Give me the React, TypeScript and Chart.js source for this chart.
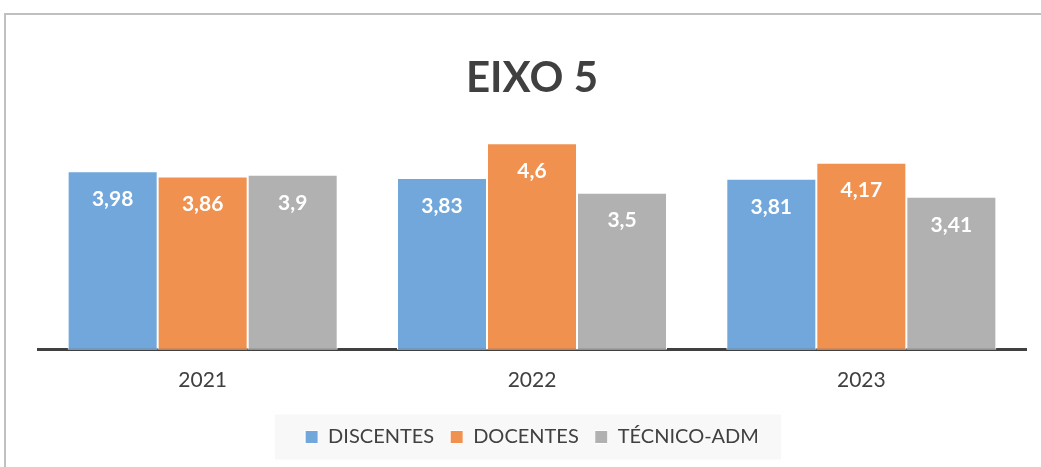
import React, { useEffect, useRef } from "react";
import { Chart, registerables } from "chart.js";

Chart.register(...registerables);

const categories = ["2021", "2022", "2023"];
const seriesNames = ["DISCENTES", "DOCENTES", "TÉCNICO-ADM"];
const discentes = [3.98, 3.83, 3.81];
const docentes = [3.86, 4.6, 4.17];
const tecnicoAdm = [3.9, 3.5, 3.41];
const colors = ["#71A7DB", "#F0914F", "#B1B1B1"];
const titleText = "EIXO 5";

const FONT = "Lato, 'Open Sans', sans-serif";

const dataLabelPlugin = {
  id: "dataLabels",
  afterDatasetsDraw(chart: any) {
    const ctx = chart.ctx;
    ctx.save();
    ctx.fillStyle = "#ffffff";
    ctx.font = `bold 21px ${FONT}`;
    ctx.textAlign = "center";
    ctx.textBaseline = "middle";
    chart.data.datasets.forEach((ds: any, di: number) => {
      const meta = chart.getDatasetMeta(di);
      meta.data.forEach((bar: any, i: number) => {
        const v = ds.data[i];
        const txt = String(v).replace(".", ",");
        ctx.fillText(txt, bar.x, bar.y + 28);
      });
    });
    ctx.restore();
  },
};

const legendBgPlugin = {
  id: "legendBg",
  beforeDraw(chart: any) {
    const lg = chart.legend;
    if (!lg || !lg.legendHitBoxes || !lg.legendHitBoxes.length) return;
    const boxes = lg.legendHitBoxes;
    let l = Infinity, r = -Infinity, t = Infinity, b = -Infinity;
    boxes.forEach((h: any) => {
      l = Math.min(l, h.left);
      r = Math.max(r, h.left + h.width);
      t = Math.min(t, h.top);
      b = Math.max(b, h.top + h.height);
    });
    const cy = (t + b) / 2;
    const ctx = chart.ctx;
    ctx.save();
    ctx.fillStyle = "#F8F8F8";
    ctx.fillRect(l - 30, cy - 22.5, r - l + 52, 45);
    ctx.restore();
  },
};

export default function App() {
  const ref = useRef<HTMLCanvasElement | null>(null);
  useEffect(() => {
    if (!ref.current) return;
    const values = [discentes, docentes, tecnicoAdm];
    const chart = new Chart(ref.current, {
      type: "bar",
      data: {
        labels: categories,
        datasets: seriesNames.map((name, i) => ({
          label: name,
          data: values[i],
          backgroundColor: colors[i],
          borderColor: "#ffffff",
          borderWidth: 1,
          borderSkipped: false,
          barPercentage: 1,
          categoryPercentage: 0.82,
        })),
      },
      options: {
        animation: false,
        responsive: true,
        maintainAspectRatio: false,
        layout: { padding: { left: 38, right: 15, top: 0, bottom: 10 } },
        plugins: {
          title: {
            display: true,
            text: titleText,
            color: "#404040",
            font: { family: FONT, size: 42, weight: "bold" },
            padding: { top: 53, bottom: 22 },
          },
          legend: {
            display: true,
            position: "bottom",
            labels: {
              color: "#404040",
              font: { family: FONT, size: 20 },
              boxWidth: 13,
              boxHeight: 13,
              padding: 16,
            },
          },
          tooltip: { enabled: false },
        },
        scales: {
          x: {
            grid: { display: false, drawTicks: false },
            border: { display: true, color: "#404040", width: 3 },
            ticks: {
              color: "#404040",
              font: { family: FONT, size: 21 },
              padding: 18,
            },
          },
          y: {
            display: false,
            min: 0,
            max: 5,
          },
        },
      },
      plugins: [dataLabelPlugin, legendBgPlugin],
    });
    return () => chart.destroy();
  }, []);
  return (
    <div
      style={{
        position: "fixed",
        left: 0,
        top: 0,
        width: 1041,
        height: 467,
        background: "#ffffff",
      }}
    >
      <div
        style={{
          position: "absolute",
          left: 4,
          top: 13,
          right: 0,
          bottom: 0,
          borderTop: "2px solid #C0C0C0",
          borderLeft: "2px solid #C0C0C0",
        }}
      />
      <canvas ref={ref} style={{ position: "absolute", left: 0, top: 0 }} />
    </div>
  );
}
